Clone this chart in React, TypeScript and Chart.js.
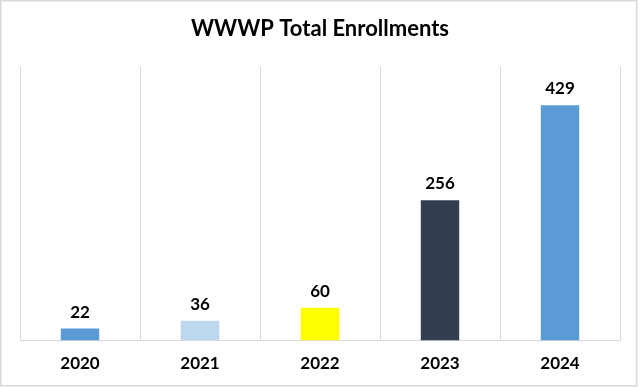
import React, { useEffect, useRef } from "react";
import { Chart, registerables } from "chart.js";

Chart.register(...registerables);

const categories = ["2020", "2021", "2022", "2023", "2024"];
const enrollments = [22, 36, 60, 256, 429];
const barColors = ["#5B9BD5", "#BDD7EE", "#FFFF00", "#333F50", "#5B9BD5"];
const chartTitle = "WWWP Total Enrollments";

const FONT = "Lato, 'Open Sans', sans-serif";

const dataLabelPlugin = {
  id: "dataLabels",
  afterDatasetsDraw(chart: any) {
    const ctx = chart.ctx;
    const meta = chart.getDatasetMeta(0);
    ctx.save();
    ctx.font = `bold 17px ${FONT}`;
    ctx.fillStyle = "#000000";
    ctx.textAlign = "center";
    ctx.textBaseline = "alphabetic";
    meta.data.forEach((bar: any, i: number) => {
      const v = chart.data.datasets[0].data[i];
      ctx.fillText(String(v), bar.x, bar.y - 11);
    });
    ctx.restore();
  },
};

const borderPlugin = {
  id: "outerBorder",
  afterDraw(chart: any) {
    const ctx = chart.ctx;
    ctx.save();
    ctx.strokeStyle = "#D9D9D9";
    ctx.lineWidth = 1.5;
    ctx.strokeRect(0.75, 0.75, 636, 385);
    ctx.restore();
  },
};

export default function App() {
  const ref = useRef<HTMLCanvasElement | null>(null);
  useEffect(() => {
    if (!ref.current) return;
    const chart = new Chart(ref.current, {
      type: "bar",
      data: {
        labels: categories,
        datasets: [
          {
            data: enrollments,
            backgroundColor: barColors,
            barPercentage: 0.32,
            categoryPercentage: 1,
          },
        ],
      },
      options: {
        animation: false,
        responsive: false,
        layout: { padding: { left: 20, right: 20, top: 0, bottom: 0 } },
        plugins: {
          legend: { display: false },
          tooltip: { enabled: false },
          title: {
            display: true,
            text: chartTitle,
            color: "#000000",
            font: { family: FONT, size: 22, weight: "bold" },
            padding: { top: 16, bottom: 24 },
          },
        },
        scales: {
          x: {
            grid: {
              offset: true,
              color: "#D9D9D9",
              lineWidth: 1,
              drawTicks: false,
            },
            border: { display: true, color: "#D9D9D9", width: 1 },
            ticks: {
              color: "#000000",
              font: { family: FONT, size: 17, weight: "bold" },
              padding: 13,
            },
          },
          y: {
            display: false,
            min: 0,
            max: 500,
          },
        },
      },
      plugins: [dataLabelPlugin, borderPlugin],
    });
    return () => chart.destroy();
  }, []);
  return (
    <div style={{ position: "fixed", left: 0, top: 0, width: 640, height: 387, background: "#fff" }}>
      <canvas ref={ref} width={640} height={387} style={{ display: "block" }} />
    </div>
  );
}
